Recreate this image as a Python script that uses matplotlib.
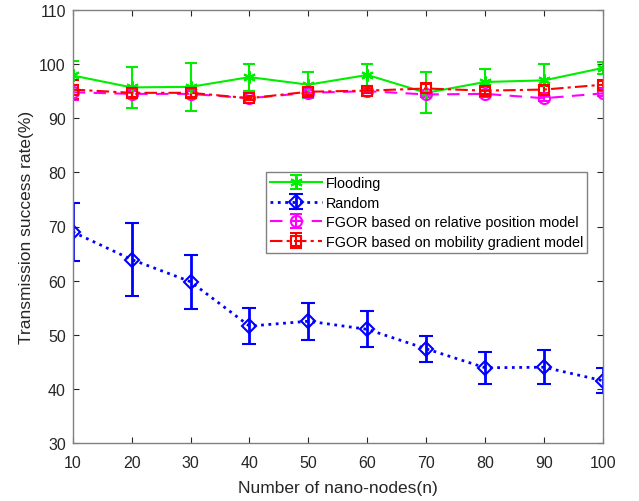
import matplotlib
matplotlib.use("Agg")
import matplotlib.pyplot as plt
import numpy as np

plt.rcParams['font.family'] = ['Liberation Sans', 'DejaVu Sans']

x = [10, 20, 30, 40, 50, 60, 70, 80, 90, 100]
flood = [97.9, 95.7, 95.8, 97.6, 96.2, 98.0, 94.7, 96.7, 97.0, 99.3]
flood_err = [2.6, 3.8, 4.4, 2.5, 2.4, 2.1, 3.8, 2.4, 3.1, 1.1]
rand = [69.0, 63.9, 59.8, 51.6, 52.5, 51.0, 47.4, 43.9, 44.0, 41.5]
rand_err = [5.3, 6.7, 5.0, 3.3, 3.4, 3.3, 2.4, 3.0, 3.1, 2.3]
rel = [94.8, 94.5, 94.5, 93.7, 94.7, 95.0, 94.4, 94.5, 93.7, 94.6]
rel_err = [1.4, 0.6, 0.6, 0.4, 0.5, 0.4, 0.5, 0.5, 0.5, 0.4]
mob = [95.3, 94.7, 94.7, 93.7, 94.9, 95.1, 95.5, 95.1, 95.3, 96.2]
mob_err = [1.8, 0.8, 0.7, 0.4, 0.6, 0.5, 0.8, 0.6, 0.6, 0.6]

fig = plt.figure(figsize=(6.39, 5.02), dpi=100)
ax = fig.add_axes([72.7 / 639, 1 - 444 / 502, (603 - 72.7) / 639, (444 - 11) / 502])

ax.errorbar(x, flood, yerr=flood_err, color='#00ee00', lw=1.5, marker=(6, 2, 0), ms=9,
            mew=1.5, capsize=4, elinewidth=1.5, capthick=1.5, label='Flooding')
ax.errorbar(x, rand, yerr=rand_err, color='#0000ff', lw=2, ls=':', marker='D', ms=7,
            mfc='none', mew=1.5, capsize=5, elinewidth=2, capthick=2, label='Random')
ax.errorbar(x, rel, yerr=rel_err, color='#ff00ff', lw=1.5, ls=(0, (6, 4)), marker='o', ms=8,
            mfc='none', mew=1.5, capsize=4, elinewidth=1.5, capthick=1.5,
            label='FGOR based on relative position model')
ax.errorbar(x, mob, yerr=mob_err, color='#ff0000', lw=1.5, ls=(0, (6, 2, 1.5, 2)), marker='s', ms=7,
            mfc='none', mew=1.5, capsize=4, elinewidth=1.5, capthick=1.5,
            label='FGOR based on mobility gradient model')

ax.set_xlim(10, 100)
ax.set_ylim(30, 110)
ax.set_xticks(x)
ax.set_yticks(np.arange(30, 111, 10))
ax.tick_params(direction='in', labelsize=11.5, colors='#262626', length=4,
               top=True, right=True)
ax.tick_params(axis='x', pad=9)
ax.tick_params(axis='y', pad=5)
for s in ax.spines.values():
    s.set_color('#808080')
    s.set_linewidth(1)
ax.set_xlabel('Number of nano-nodes(n)', fontsize=12.5, color='#262626', labelpad=7)
ax.set_ylabel('Transmission success rate(%)', fontsize=12.5, color='#262626')

leg = ax.legend(loc='upper left', bbox_to_anchor=(0.364, 0.626), fontsize=10.4,
                fancybox=False, edgecolor='#808080', framealpha=1,
                borderpad=0.3, labelspacing=0.38, handlelength=3.6, handletextpad=0.25,
                borderaxespad=0)
leg.get_frame().set_linewidth(1)

fig.savefig('out.png', dpi=100)
